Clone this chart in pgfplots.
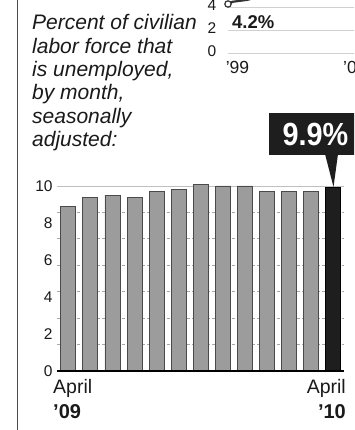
\documentclass[border=0pt]{standalone}
\usepackage{fontspec}
\setmainfont{Liberation Sans}
\usepackage{graphicx}
\usepackage{pgfplots}
\pgfplotsset{compat=1.18}
\definecolor{barfill}{HTML}{9C9C9C}
\definecolor{baredge}{HTML}{4A4A4A}
\definecolor{darkbar}{HTML}{1E1E1E}
\definecolor{gridc}{HTML}{A8A8A8}
\definecolor{txt}{HTML}{1A1A1A}
\definecolor{linec}{HTML}{333333}
\begin{document}
\begin{tikzpicture}[x=1pt,y=1pt]
\useasboundingbox (0,0) rectangle (354,430);
\clip (0,0) rectangle (354,430);
\fill[white] (0,0) rectangle (354,430);

% fragment of the upper (long-term) chart
\begin{axis}[
  scale only axis, width=139.7pt, height=52.9pt,
  at={(228pt,377pt)}, anchor=south west,
  xmin=1999, xmax=2001.2, ymin=0, ymax=4.6,
  axis line style={draw=none}, major tick length=0pt,
  xtick=\empty, ytick={0,2,4},
  ymajorgrids, major grid style={black!18, line width=0.6pt},
  /pgf/number format/assume math mode=true,
  yticklabel style={font=\fontsize{15.5}{15.5}\selectfont, text=txt, inner sep=0pt, xshift=-11.5pt, yshift=2pt},
  clip=false,
]
\addplot[line width=2.2pt, linec] coordinates {(1999,4.26) (1999.07,4.45) (1999.3,4.62) (1999.5,4.9)};
\addplot[only marks, mark=*, mark size=3.2pt, mark options={fill=white, draw=linec, line width=1.2pt}] coordinates {(1999,4.26)};
\end{axis}
\node[anchor=base west, inner sep=0pt, text=txt, font=\bfseries\fontsize{18.5}{18.5}\selectfont] at (232,401.7) {4.2\%};
\node[anchor=base, inner sep=0pt, text=txt, font=\fontsize{17.5}{17.5}\selectfont] at (237.5,356) {’99};
\node[anchor=base west, inner sep=0pt, text=txt, font=\fontsize{17.5}{17.5}\selectfont] at (343,356) {’01};

% description text
\begin{scope}[every node/.style={anchor=base west, inner sep=0pt, text=txt, font=\itshape\fontsize{21}{23}\selectfont}]
\node at (32,400) {Percent of civilian};
\node at (32,376.7) {labor force that};
\node at (32,353.3) {is unemployed,};
\node at (32,330) {by month,};
\node at (32,306.7) {seasonally};
\node at (32,283.3) {adjusted:};
\end{scope}

% main bar chart
\begin{axis}[
  scale only axis, width=286.8pt, height=194.25pt,
  at={(57.3pt,59pt)}, anchor=south west,
  xmin=-0.5, xmax=12.5, ymin=0, ymax=10.5,
  axis line style={draw=none}, major tick length=0pt,
  xtick=\empty, ytick={0,2,4,6,8,10},
  /pgf/number format/assume math mode=true,
  yticklabel style={font=\fontsize{15.5}{15.5}\selectfont, text=txt, inner sep=0pt, xshift=-4.5pt},
  extra y ticks={1.428571,2.857143,4.285714,5.714286,7.142857,8.571429},
  extra y tick labels={},
  extra y tick style={grid=major, major grid style={gridc, dash pattern=on 3pt off 2pt, line width=0.8pt}},
  clip=false,
]
\draw[black!25, line width=0.8pt] (axis cs:-0.5,10) -- (axis cs:12.5,10);
\addplot[ybar, bar width=15pt, bar shift=0pt, fill=barfill, draw=baredge, line width=0.8pt]
  coordinates {(0,8.9) (1,9.4) (2,9.5) (3,9.4) (4,9.7) (5,9.8) (6,10.1) (7,10.0) (8,10.0) (9,9.7) (10,9.7) (11,9.7)};
\addplot[ybar, bar width=15pt, bar shift=0pt, fill=darkbar, draw=black, line width=0.8pt]
  coordinates {(12,9.9)};
\draw[line width=2pt, black] (axis cs:-0.5,0) -- (axis cs:12.5,0);
\end{axis}

% callout
\fill[darkbar] (269,275) rectangle (360,317);
\fill[darkbar] (325,276) -- (338,276) -- (333.5,243) -- cycle;
\node[inner sep=0pt, text=white, font=\bfseries\fontsize{32}{32}\selectfont] at (315.5,295.5) {\scalebox{0.9}[1]{9.9\%}};

% x labels
\node[anchor=base west, inner sep=0pt, text=txt, font=\fontsize{19.5}{19.5}\selectfont] at (53,36) {April};
\node[anchor=base west, inner sep=0pt, text=txt, font=\bfseries\fontsize{20}{20}\selectfont] at (53,11) {’09};
\node[anchor=base east, inner sep=0pt, text=txt, font=\fontsize{19.5}{19.5}\selectfont] at (346,36) {April};
\node[anchor=base east, inner sep=0pt, text=txt, font=\bfseries\fontsize{20}{20}\selectfont] at (346,11) {’10};

% left border
\draw[line width=1pt, black!70] (17.3,0) -- (17.3,430);
\end{tikzpicture}
\end{document}
